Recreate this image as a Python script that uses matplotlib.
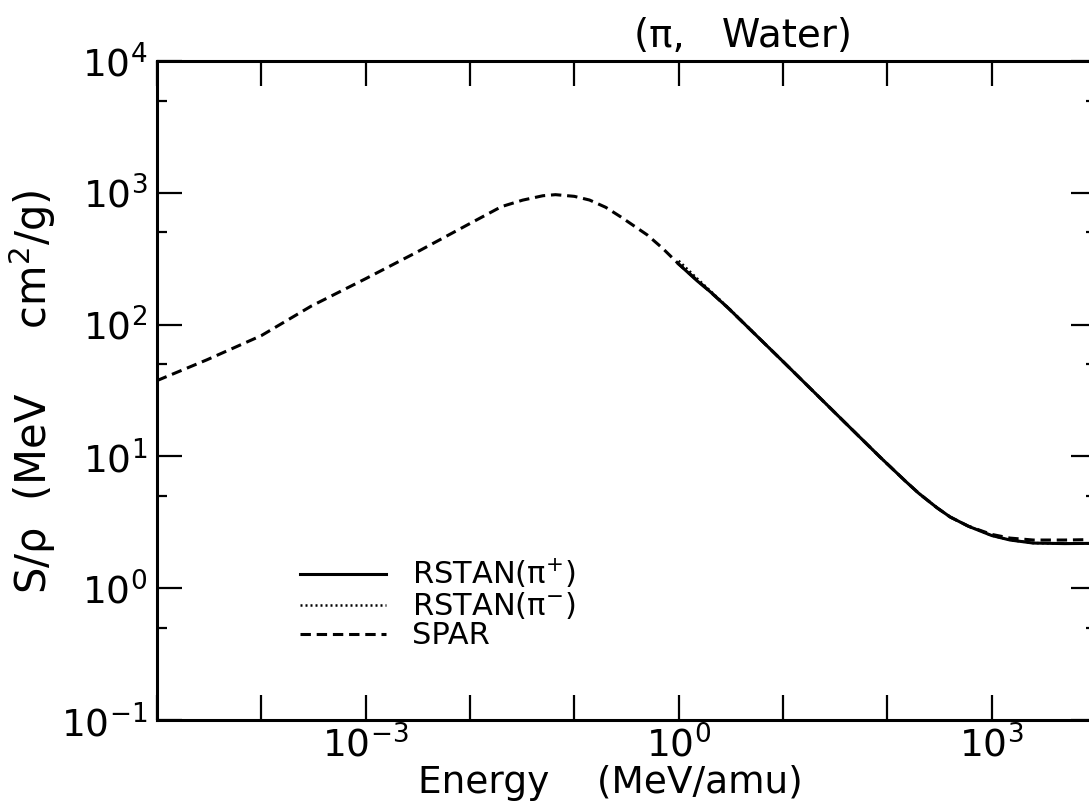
import numpy as np
import matplotlib
matplotlib.use("Agg")
import matplotlib.pyplot as plt
from matplotlib.ticker import FixedLocator, FuncFormatter, NullLocator

plt.rcParams['font.family'] = ['DejaVu Sans']
plt.rcParams['mathtext.fontset'] = 'dejavusans'

# ---- data ----
spar_energy = [1e-5, 3e-5, 1e-4, 3e-4, 1e-3, 3e-3, 1e-2, 2e-2, 3.2e-2, 5e-2,
               6.6e-2, 1e-1, 1.4e-1, 2e-1, 2.8e-1, 5e-1, 7e-1, 1.0, 2.0, 3.0,
               10.0, 40.0, 85.0, 150.0, 200.0, 300.0, 400.0, 600.0, 1000.0,
               1500.0, 2500.0, 5000.0, 10000.0]
spar_values = [37.6, 54, 82.5, 138, 223, 350, 585, 785, 880, 950,
               968, 940, 881, 776, 655, 479, 380, 288, 178, 133,
               52.5, 17.8, 9.9, 6.46, 5.25, 4.07, 3.47, 2.95, 2.56,
               2.40, 2.32, 2.32, 2.34]

rstan_energy = [1.0, 1.5, 2.0, 3.0, 10.0, 40.0, 85.0, 150.0, 200.0, 300.0,
                400.0, 600.0, 1000.0, 1500.0, 2500.0, 5000.0, 10000.0]
rstan_plus = [288, 215, 178, 133, 52.5, 17.8, 9.9, 6.46, 5.25, 4.07,
              3.47, 2.95, 2.51, 2.32, 2.20, 2.18, 2.19]
rstan_minus = [305, 224, 181, 134, 52.5, 17.8, 9.9, 6.46, 5.25, 4.07,
               3.47, 2.95, 2.51, 2.32, 2.20, 2.18, 2.19]

x_major = [1e-5, 1e-4, 1e-3, 1e-2, 1e-1, 1e0, 1e1, 1e2, 1e3, 1e4]
x_labeled = [-3, 0, 3]
y_major = [1e-1, 1e0, 1e1, 1e2, 1e3, 1e4]
y_minor = [5e-1, 5e0, 5e1, 5e2, 5e3]

fig = plt.figure(figsize=(10.89, 8.11), dpi=100)
W, H = 1089, 811
ax = fig.add_axes([157 / W, (H - 720) / H, (1096 - 157) / W, (720 - 61) / H])

lw = 2.2
ax.plot(spar_energy, spar_values, color='black', lw=lw, ls=(0, (3.4, 1.9)),
        label='SPAR', zorder=2)
ax.plot(rstan_energy, rstan_plus, color='black', lw=lw, ls='-',
        label=r'RSTAN(π$^{+}$)', zorder=3)
ax.plot(rstan_energy, rstan_minus, color='black', lw=1.8, ls=(0, (0.8, 1.2)),
        label=r'RSTAN(π$^{-}$)', zorder=3)

ax.set_xscale('log')
ax.set_yscale('log')
ax.set_xlim(1e-5, 1e4)
ax.set_ylim(1e-1, 1e4)

ax.xaxis.set_major_locator(FixedLocator(x_major))
ax.xaxis.set_minor_locator(NullLocator())
ax.yaxis.set_major_locator(FixedLocator(y_major))
ax.yaxis.set_minor_locator(FixedLocator(y_minor))


def xfmt(v, pos):
    e = int(round(np.log10(v)))
    if e in x_labeled:
        return r'$\mathregular{10^{%d}}$' % e
    return ''


def yfmt(v, pos):
    e = int(round(np.log10(v)))
    return r'$\mathregular{10^{%d}}$' % e


ax.xaxis.set_major_formatter(FuncFormatter(xfmt))
ax.yaxis.set_major_formatter(FuncFormatter(yfmt))
ax.yaxis.set_minor_formatter(FuncFormatter(lambda v, p: ''))

ax.tick_params(which='major', direction='in', length=18, width=1.6,
               top=True, right=True, labelsize=27, pad=4)
ax.tick_params(which='minor', direction='in', length=7, width=1.6,
               top=True, right=True)
ax.tick_params(axis='y', which='major', pad=7)
for s in ax.spines.values():
    s.set_linewidth(2.2)

fig.text(610 / W, 1 - 783 / H, 'Energy    (MeV/amu)', fontsize=27,
         ha='center', va='center')
fig.text(32 / W, 1 - 594 / H, r'S/ρ  (MeV     cm$\mathregular{^2}$/g)',
         fontsize=30, ha='center', va='bottom', rotation=90)
fig.text(743 / W, 1 - 36 / H, '(π,   Water)', fontsize=28,
         ha='center', va='center')

handles, labels = ax.get_legend_handles_labels()
order = [1, 2, 0]
leg = ax.legend([handles[i] for i in order], [labels[i] for i in order],
                loc='upper left', bbox_to_anchor=(300 / W, 1 - 557 / H),
                bbox_transform=fig.transFigure, frameon=False, fontsize=22,
                handlelength=2.8, handletextpad=0.85, labelspacing=0.0,
                borderpad=0, borderaxespad=0)

fig.savefig('out.png', dpi=100)
